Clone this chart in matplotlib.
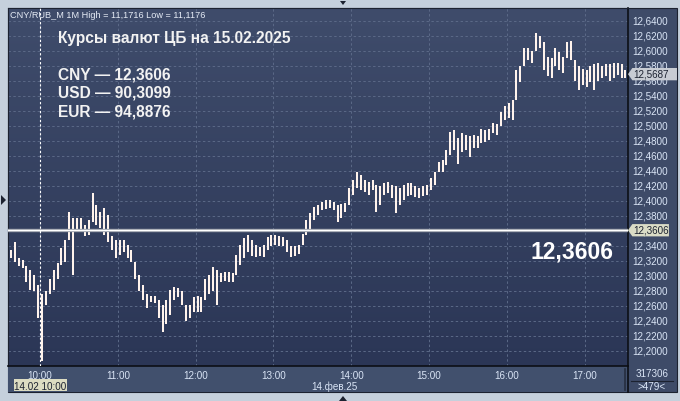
import numpy as np
import matplotlib.pyplot as plt
from matplotlib.colors import LinearSegmentedColormap
from matplotlib.patches import Rectangle, Polygon
from matplotlib.lines import Line2D
import matplotlib.transforms as mtransforms

# 3-минутные бары CNY/RUB, 14.02.2025
bar_high = [
    12.334, 12.345, 12.324, 12.321, 12.313, 12.308, 12.301, 12.288, 12.275, 12.279,
    12.295, 12.308, 12.317, 12.337, 12.348, 12.385, 12.377, 12.377, 12.377, 12.368,
    12.374, 12.410, 12.394, 12.385, 12.390, 12.381, 12.353, 12.348, 12.348, 12.348,
    12.341, 12.334, 12.313, 12.301, 12.288, 12.276, 12.273, 12.273, 12.268, 12.261,
    12.268, 12.281, 12.285, 12.284, 12.279, 12.257, 12.261, 12.272, 12.273, 12.271,
    12.295, 12.301, 12.312, 12.308, 12.304, 12.305, 12.305, 12.304, 12.328, 12.341,
    12.350, 12.354, 12.348, 12.341, 12.338, 12.341, 12.352, 12.354, 12.354, 12.353,
    12.352, 12.348, 12.340, 12.340, 12.341, 12.356, 12.374, 12.384, 12.392, 12.394,
    12.398, 12.401, 12.401, 12.398, 12.394, 12.396, 12.397, 12.417, 12.427, 12.438,
    12.434, 12.427, 12.425, 12.427, 12.421, 12.419, 12.423, 12.425, 12.421, 12.419,
    12.417, 12.421, 12.423, 12.423, 12.419, 12.417, 12.419, 12.421, 12.430, 12.438,
    12.451, 12.454, 12.467, 12.491, 12.494, 12.483, 12.490, 12.487, 12.486, 12.487,
    12.486, 12.496, 12.494, 12.496, 12.503, 12.502, 12.518, 12.526, 12.530, 12.534,
    12.574, 12.580, 12.603, 12.603, 12.600, 12.624, 12.620, 12.611, 12.591, 12.590,
    12.603, 12.598, 12.592, 12.611, 12.613, 12.584, 12.579, 12.576, 12.574, 12.579,
    12.582, 12.583, 12.579, 12.582, 12.582, 12.583, 12.584, 12.582, 12.574,
]
bar_low = [
    12.324, 12.318, 12.313, 12.310, 12.292, 12.281, 12.279, 12.244, 12.186, 12.261,
    12.275, 12.281, 12.295, 12.314, 12.318, 12.350, 12.301, 12.358, 12.361, 12.353,
    12.354, 12.372, 12.368, 12.364, 12.354, 12.345, 12.334, 12.324, 12.328, 12.332,
    12.324, 12.318, 12.295, 12.279, 12.268, 12.257, 12.265, 12.264, 12.244, 12.225,
    12.235, 12.248, 12.268, 12.271, 12.261, 12.239, 12.244, 12.251, 12.252, 12.252,
    12.268, 12.275, 12.279, 12.261, 12.292, 12.293, 12.291, 12.292, 12.301, 12.314,
    12.324, 12.332, 12.326, 12.325, 12.326, 12.325, 12.334, 12.340, 12.341, 12.340,
    12.340, 12.332, 12.325, 12.326, 12.329, 12.342, 12.354, 12.361, 12.374, 12.381,
    12.388, 12.389, 12.390, 12.388, 12.372, 12.377, 12.385, 12.394, 12.407, 12.417,
    12.414, 12.411, 12.407, 12.414, 12.385, 12.394, 12.407, 12.410, 12.403, 12.384,
    12.394, 12.401, 12.406, 12.407, 12.405, 12.403, 12.406, 12.407, 12.414, 12.421,
    12.438, 12.438, 12.447, 12.461, 12.467, 12.449, 12.465, 12.467, 12.458, 12.470,
    12.470, 12.477, 12.478, 12.481, 12.490, 12.487, 12.500, 12.507, 12.510, 12.507,
    12.534, 12.558, 12.580, 12.587, 12.583, 12.600, 12.604, 12.574, 12.566, 12.563,
    12.579, 12.574, 12.570, 12.590, 12.587, 12.560, 12.547, 12.554, 12.551, 12.558,
    12.547, 12.560, 12.563, 12.566, 12.560, 12.564, 12.567, 12.563, 12.563,
]
bar_start = 9 * 60 + 36   # 9:36, минуты от полуночи
bar_step = 3

hour_ticks = [600, 660, 720, 780, 840, 900, 960, 1020]
hour_labels = ['10:00', '11:00', '12:00', '13:00', '14:00', '15:00', '16:00', '17:00']
price_ticks = [12.20, 12.22, 12.24, 12.26, 12.28, 12.30, 12.32, 12.34, 12.36, 12.38, 12.40,
               12.42, 12.44, 12.46, 12.48, 12.50, 12.52, 12.54, 12.56, 12.58, 12.60, 12.62, 12.64]
last_price = 12.5687
cb_rate = 12.3606
cursor_time = 600

title = 'Курсы валют ЦБ на 15.02.2025'
rates = ['CNY — 12,3606', 'USD — 90,3099', 'EUR — 94,8876']
header = 'CNY/RUB_M 1M High = 11,1716 Low = 11,1176'

W, H = 680, 401
FONT = 'Liberation Sans'
LABEL = '#dae5f6'


def fx(x):
    return x / W


def fy(y):
    return 1 - y / H


def comma(v):
    return f'{v:.4f}'.replace('.', ',')


fig = plt.figure(figsize=(W / 100, H / 100), dpi=100)
fig.patch.set_facecolor('#c5d0dc')

# панели осей (справа и снизу)
fig.patches.append(Rectangle((fx(8), fy(392)), fx(669), 384 / H, transform=fig.transFigure,
                             fc='#3e4b68', ec='#1c2230', lw=0.8, zorder=-2))
fig.patches.append(Rectangle((fx(8), fy(392)), 620 / W, 26 / H, transform=fig.transFigure,
                             fc='#41506d', ec='none', zorder=-1))

ax = fig.add_axes([fx(8), fy(366), 620 / W, 358 / H])
x0, x1 = 575.3, 1053.5
y0, y1 = 12.1796, 12.6569
grad = np.linspace(0, 1, 256).reshape(-1, 1)
cmap = LinearSegmentedColormap.from_list('bg', ['#3f4c6b', '#2b3656'])
ax.imshow(grad, cmap=cmap, extent=[x0, x1, y0, y1], aspect='auto', zorder=0)
ax.set_xlim(x0, x1)
ax.set_ylim(y0, y1)

ax.set_xticks(hour_ticks)
ax.set_xticklabels(hour_labels)
ax.set_yticks(price_ticks)
ax.set_yticklabels([comma(p) for p in price_ticks])
ax.yaxis.tick_right()
ax.tick_params(axis='y', length=0, pad=3, labelsize=7.1, labelcolor=LABEL)
ax.tick_params(axis='x', length=0, pad=3.6, labelsize=7.1, labelcolor=LABEL)
for lab in ax.get_xticklabels() + ax.get_yticklabels():
    lab.set_fontfamily(FONT)
ax.grid(color='#5b6987', ls=(0, (2.5, 2.5)), lw=0.7, zorder=1)
for side in ['left', 'top']:
    ax.spines[side].set_color('#1c2230')
    ax.spines[side].set_linewidth(0.8)
for side in ['right', 'bottom']:
    ax.spines[side].set_color('#0c0f16')
    ax.spines[side].set_linewidth(1.2)

# бары high-low, соседние бары смыкаются, как на минутном графике
hi = np.array(bar_high)
lo = np.array(bar_low)
hi_d, lo_d = hi.copy(), lo.copy()
lo_d[1:] = np.minimum(lo[1:], hi[:-1])
hi_d[1:] = np.maximum(hi[1:], lo[:-1])
t = bar_start + bar_step * np.arange(len(hi)) + bar_step / 2
ax.vlines(t, lo_d, hi_d, color='#fff3ec', lw=1.45, zorder=3)

# линия курса ЦБ
ax.axhline(cb_rate, color='#a9adb6', lw=2.4, zorder=4)
ax.axhline(cb_rate, color='#ffffff', lw=0.8, zorder=4)

# курсор
ax.axvline(cursor_time, color='#ffffff', ls=(0, (2, 2)), lw=0.8, zorder=5)

# метки цены справа
bt = mtransforms.blended_transform_factory(ax.transAxes, ax.transData)
dy = 0.0082
for price, right, fc in [(last_price, 1.079, '#c8ccd3'), (cb_rate, 1.066, '#dadcc6')]:
    poly = Polygon([(1.0, price), (1.007, price + dy), (right, price + dy),
                    (right, price - dy), (1.007, price - dy)], closed=True,
                   transform=bt, fc=fc, ec='none', clip_on=False, zorder=6)
    ax.add_patch(poly)
    ax.text(1.009, price, comma(price), transform=bt, fontsize=7.1, family=FONT,
            color='#1c2230', va='center', ha='left', zorder=7, clip_on=False)

# тексты
fig.text(fx(10), fy(18), header, fontsize=6.6, family=FONT, color='#e6ecf6', va='baseline')
fig.text(fx(58), fy(43), title, fontsize=11.2, family=FONT, weight='bold', color='#f2f2f2',
         va='baseline')
for k, line in enumerate(rates):
    fig.text(fx(58), fy(79 + 18.8 * k), line, fontsize=11.2, family=FONT, weight='bold',
             color='#f2f2f2', va='baseline')
ax.text(0.976, cb_rate - 0.0135, comma(cb_rate), transform=bt, fontsize=16.5, family=FONT,
        weight='bold', color='#ffffff', ha='right', va='top', zorder=6)

# подписи в нижней панели
fig.patches.append(Rectangle((fx(14), fy(391)), 53 / W, 12 / H, transform=fig.transFigure,
                             fc='#dcdcc2', ec='none', zorder=2))
fig.text(fx(40.5), fy(389.5), '14.02 10:00', fontsize=7.1, family=FONT, color='#1c2230',
         ha='center', va='baseline', zorder=3)
fig.text(fx(334), fy(390), '14.фев.25', fontsize=7.1, family=FONT, color=LABEL,
         ha='center', va='baseline')
fig.lines.append(Line2D([fx(625), fx(625)], [fy(369), fy(390)], transform=fig.transFigure,
                        color='#262e40', lw=1.2))
fig.lines.append(Line2D([fx(628), fx(628)], [fy(366), fy(392)], transform=fig.transFigure,
                        color='#0c0f16', lw=1.2))
fig.text(fx(652), fy(377), '317306', fontsize=7.1, family=FONT, color=LABEL,
         ha='center', va='baseline')
fig.lines.append(Line2D([fx(631), fx(673)], [fy(380.5), fy(380.5)], transform=fig.transFigure,
                        color='#1c2230', lw=0.8))
fig.text(fx(652), fy(390), '>479<', fontsize=7.1, family=FONT, color=LABEL,
         ha='center', va='baseline')

# треугольные маркеры рамки
for pts in [[(1, 195), (1, 205), (6, 200)], [(339, 401), (347, 401), (343, 396)],
            [(340, 1), (346, 1), (343, 5)]]:
    fig.patches.append(Polygon([(fx(a), fy(b)) for a, b in pts], closed=True,
                               transform=fig.transFigure, fc='#1c2230', ec='none', zorder=-1))

fig.savefig('out.png', dpi=100, facecolor=fig.get_facecolor())
